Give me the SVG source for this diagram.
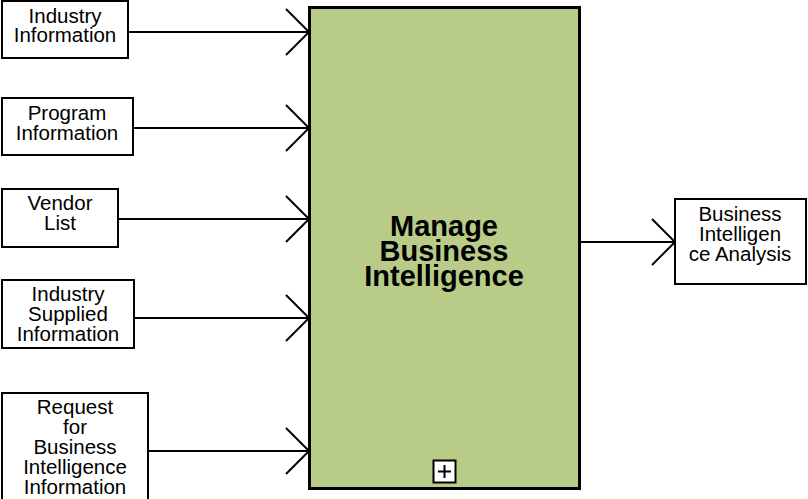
<svg xmlns="http://www.w3.org/2000/svg" width="808" height="499" viewBox="0 0 808 499">
<style>
.box{fill:#fff;stroke:#000;stroke-width:2}
.t{font-family:"Liberation Sans",Arial,sans-serif;font-size:20.5px;text-anchor:middle;fill:#000}
.title{font-family:"Liberation Sans",Arial,sans-serif;font-size:29px;font-weight:bold;text-anchor:middle;fill:#000}
.c{fill:none;stroke:#000;stroke-width:2}
</style>
<rect width="808" height="499" fill="#fff"/>
<g id="main">
<rect x="309.5" y="7.5" width="270" height="481" fill="#b8cc88" stroke="#000" stroke-width="3"/>
<text class="title" x="444" y="236">Manage</text>
<text class="title" x="444" y="261">Business</text>
<text class="title" x="444" y="286">Intelligence</text>
<rect x="433.5" y="460.5" width="22" height="22" fill="#fff" stroke="#000" stroke-width="2"/>
<path d="M438 471.5h13M444.5 465v13" stroke="#000" stroke-width="2"/>
</g>
<g id="n1"><rect class="box" x="2" y="1" width="126" height="57"/><text class="t" x="65" y="22.5">Industry</text><text class="t" x="65" y="42">Information</text></g>
<g id="n2"><rect class="box" x="2" y="98" width="131" height="57"/><text class="t" x="67" y="120">Program</text><text class="t" x="67" y="140">Information</text></g>
<g id="n3"><rect class="box" x="2" y="189" width="116" height="58"/><text class="t" x="60" y="210">Vendor</text><text class="t" x="60" y="230">List</text></g>
<g id="n4"><rect class="box" x="2" y="280" width="132" height="68"/><text class="t" x="68" y="301">Industry</text><text class="t" x="68" y="321">Supplied</text><text class="t" x="68" y="341">Information</text></g>
<g id="n5"><rect class="box" x="2" y="393" width="146" height="108"/><text class="t" x="75" y="414">Request</text><text class="t" x="75" y="434">for</text><text class="t" x="75" y="454">Business</text><text class="t" x="75" y="474">Intelligence</text><text class="t" x="75" y="494">Information</text></g>
<g id="n6"><rect class="box" x="675" y="199" width="131" height="85"/><text class="t" x="740" y="221">Business</text><text class="t" x="740" y="241">Intelligen</text><text class="t" x="740" y="261">ce Analysis</text></g>
<g id="connectors">
<path class="c" d="M128 32H309M286 9L309 32L286 55"/>
<path class="c" d="M133 128H309M286 105L309 128L286 151"/>
<path class="c" d="M118 219H309M286 196L309 219L286 242"/>
<path class="c" d="M134 318H309M286 295L309 318L286 341"/>
<path class="c" d="M148 451H309M286 428L309 451L286 474"/>
<path class="c" d="M581 242H675M652 219L675 242L652 265"/>
</g>
</svg>
